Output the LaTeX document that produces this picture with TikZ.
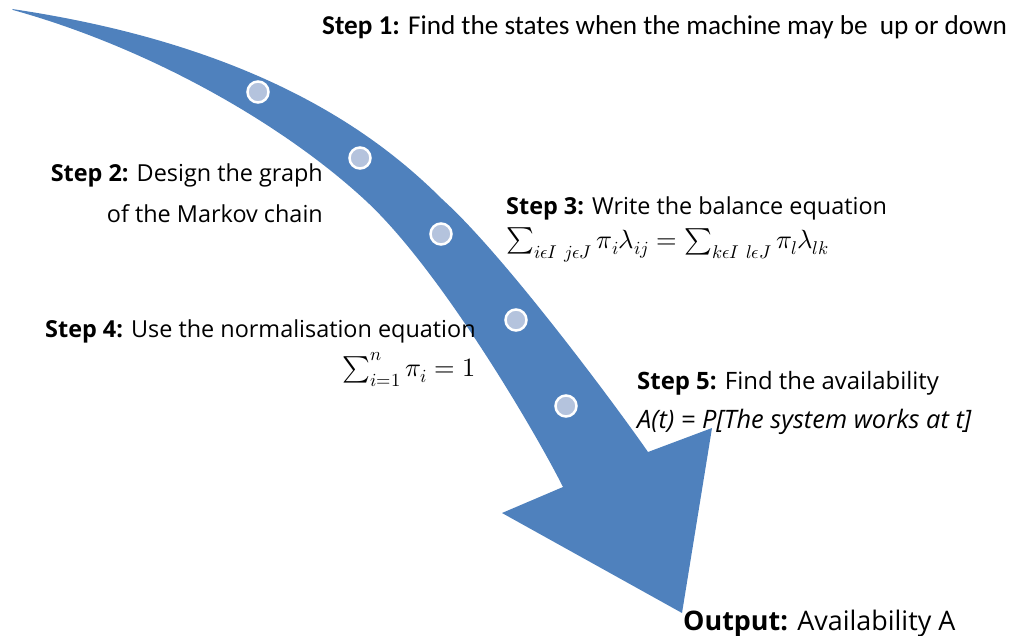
\documentclass[tikz,border=0pt]{standalone}
\usepackage{fontspec}
\usepackage{unicode-math}
\setmainfont{Open Sans}
\setmathfont{Latin Modern Math}
\newfontfamily\calibfont{Carlito}
\usepackage{xcolor}
\usetikzlibrary{positioning}
\definecolor{arrowblue}{HTML}{4F81BD}
\definecolor{dotblue}{HTML}{B4C3DD}
\begin{document}
\begin{tikzpicture}[
    x=1bp, y=-1bp,
    steptext/.style={inner sep=0pt, font=\fontsize{23.5}{28}\selectfont},
    firsttext/.style={inner sep=0pt, font=\calibfont\fontsize{27.3}{32}\selectfont},
    mathtext/.style={inner sep=0pt, font=\fontsize{26.5}{31}\selectfont},
    outtext/.style={inner sep=0pt, font=\fontsize{27}{32}\selectfont},
    dotmark/.style={circle, fill=dotblue, draw=white, line width=2.5bp, minimum size=21bp, inner sep=0pt}
]
\useasboundingbox (0,0) rectangle (1014,636);
\fill[arrowblue] (12,9) .. controls (262,46) and (380,137) .. (443,200)
    .. controls (503,254) and (614,403) .. (648,452)
    -- (712,428) -- (682,613) -- (502,513) -- (563,487)
    .. controls (536,433) and (440,269) .. (365,200)
    .. controls (285,126) and (153,49) .. (13,10) -- cycle;
\foreach \x/\y [count=\i] in {258/92, 360/158, 441/234, 516/320, 566/406}
    \node[dotmark] (dot\i) at (\x,\y) {};
\node[firsttext, anchor=base west] (step1) at (322,35) {\textbf{Step 1:} Find the states when the machine may be\ \ up or down};
\node[steptext, anchor=base east] (step2) at (323,182) {\textbf{Step 2:} Design the graph};
\node[steptext, below=40bp of step2.base east, anchor=base east] (step2b) {of the Markov chain};
\node[steptext, anchor=base west] (step3) at (506,215) {\textbf{Step 3:} Write the balance equation};
\node[mathtext, below=33bp of step3.base west, anchor=base west] (balance) {$\sum_{i\epsilon I\ j\epsilon J}\pi_i\lambda_{ij}=\sum_{k\epsilon I\ l\epsilon J}\pi_l\lambda_{lk}$};
\node[steptext, anchor=base west] (step4) at (45,337) {\textbf{Step 4:} Use the normalisation equation};
\node[mathtext, below=39bp of step4.base east, anchor=base east] (norm) {$\sum_{i=1}^{n}\pi_i=1$};
\node[steptext, font=\fontsize{24}{28}\selectfont, anchor=base west] (step5) at (637,389) {\textbf{Step 5:} Find the availability};
\node[steptext, font=\fontsize{25.5}{30}\selectfont\itshape, below=39bp of step5.base west, anchor=base west] (avail) {A(t) = P[The system works at t]};
\node[outtext, anchor=base west] (output) at (683,630) {\textbf{Output:} Availability A};
\end{tikzpicture}
\end{document}
